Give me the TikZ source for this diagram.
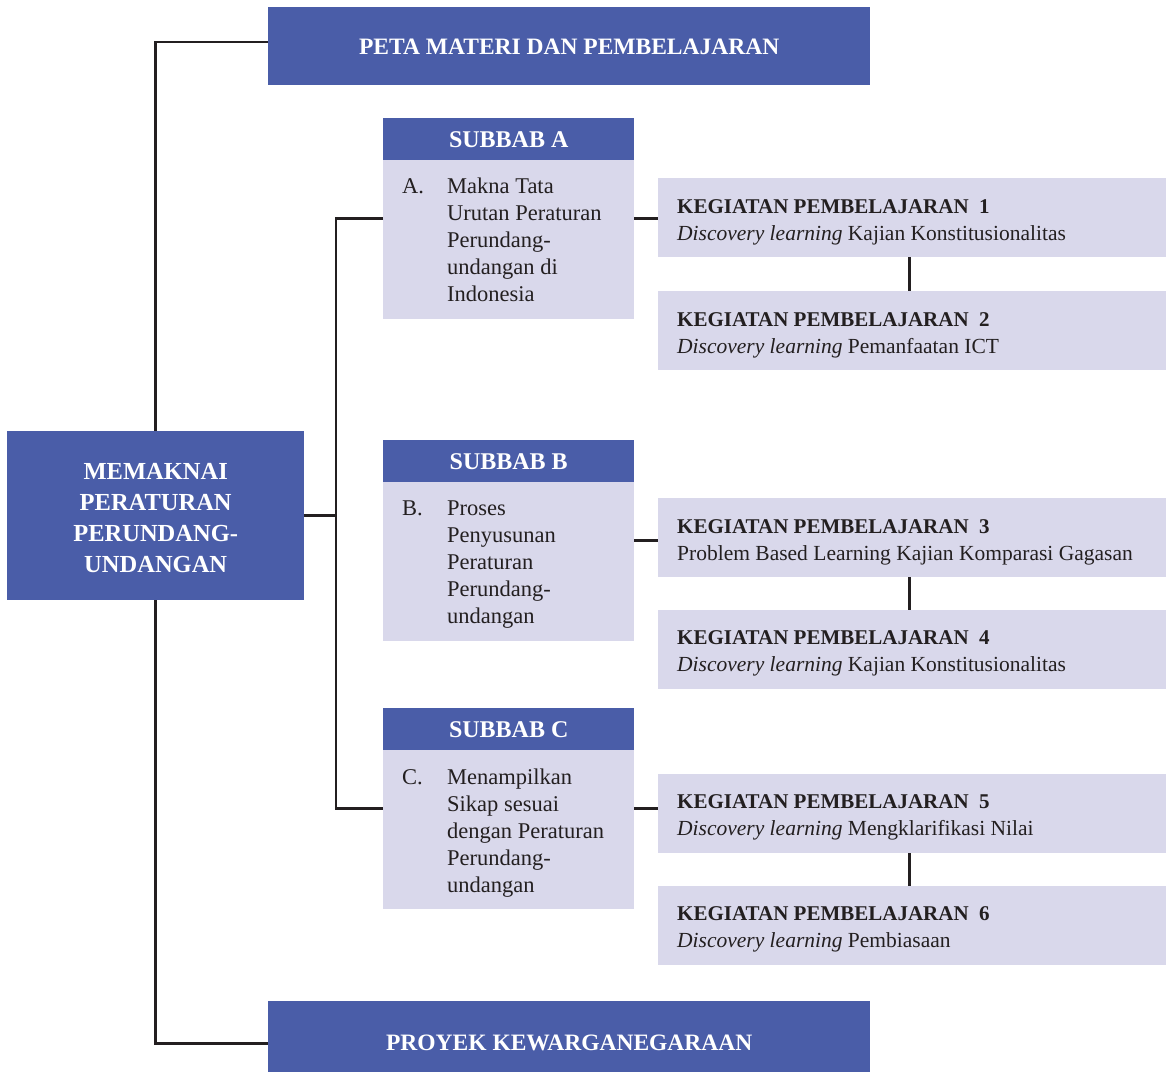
\documentclass[tikz,border=0pt]{standalone}
\usepackage{fontspec}
\setmainfont{Liberation Serif}
\definecolor{blueM}{HTML}{4A5DA8}
\definecolor{lightM}{HTML}{D9D8EB}
\definecolor{inkM}{HTML}{231F20}
\begin{document}
\begin{tikzpicture}[x=1pt,y=-1pt,
  conn/.style={draw=inkM,line width=2.6pt},
  darkbox/.style={fill=blueM,text=white,inner sep=0pt,anchor=north west,font=\fontsize{23.5}{28}\selectfont\bfseries},
  subbox/.style={fill=lightM,inner sep=0pt,anchor=north west,minimum width=251pt,minimum height=201pt},
  subhead/.style={fill=blueM,text=white,inner sep=0pt,anchor=north west,minimum width=251pt,minimum height=42pt,font=\fontsize{24}{28}\selectfont\bfseries},
  subtext/.style={anchor=north west,inner sep=0pt,text=inkM,align=left,font=\fontsize{22.5}{27}\selectfont},
  kpbox/.style={fill=lightM,anchor=north west,minimum width=508pt,minimum height=79pt,inner sep=0pt},
  kptext/.style={anchor=north west,inner sep=0pt,text=inkM,align=left,font=\fontsize{21.5}{27}\selectfont}
]
\useasboundingbox (0,0) rectangle (1169,1073);
% main boxes
\node[darkbox,minimum width=602pt,minimum height=78pt] (peta) at (268,7) {};
\node[text=white,inner sep=0pt,font=\fontsize{23.5}{28}\selectfont\bfseries] (petaT) at ([yshift=-1pt]peta.center) {PETA MATERI DAN PEMBELAJARAN};
\node[darkbox,minimum width=602pt,minimum height=71pt] (proyek) at (268,1001) {};
\node[text=white,inner sep=0pt,font=\fontsize{23.5}{28}\selectfont\bfseries] (proyekT) at ([yshift=-6pt]proyek.center) {PROYEK KEWARGANEGARAAN};
\node[darkbox,minimum width=297pt,minimum height=169pt] (main) at (7,431) {};
\node[text=white,inner sep=0pt,align=center,font=\fontsize{24.5}{31}\selectfont\bfseries] (mainT) at ([yshift=-2pt]main.center) {MEMAKNAI\\PERATURAN\\PERUNDANG-\\UNDANGAN};
% subbab boxes
\node[subbox] (subA) at (383,118) {};
\node[subhead] (headA) at (383,118) {SUBBAB A};
\node[subtext] (labA) at (402,178) {A.};
\node[subtext] (txtA) at (447,178) {Makna Tata\\Urutan Peraturan\\Perundang-\\undangan di\\Indonesia};
\node[subbox] (subB) at (383,440) {};
\node[subhead] (headB) at (383,440) {SUBBAB B};
\node[subtext] (labB) at (402,501) {B.};
\node[subtext] (txtB) at (447,501) {Proses\\Penyusunan\\Peraturan\\Perundang-\\undangan};
\node[subbox] (subC) at (383,708) {};
\node[subhead] (headC) at (383,708) {SUBBAB C};
\node[subtext] (labC) at (402,769) {C.};
\node[subtext] (txtC) at (447,769) {Menampilkan\\Sikap sesuai\\dengan Peraturan\\Perundang-\\undangan};
% kegiatan boxes
\node[kpbox] (kp1) at (658,178) {};
\node[kptext] (kp1t) at (677,199) {{\bfseries\fontsize{21}{27}\selectfont KEGIATAN PEMBELAJARAN~~1}\\\textit{Discovery learning} Kajian Konstitusionalitas};
\node[kpbox] (kp2) at (658,291) {};
\node[kptext] (kp2t) at (677,312) {{\bfseries\fontsize{21}{27}\selectfont KEGIATAN PEMBELAJARAN~~2}\\\textit{Discovery learning} Pemanfaatan ICT};
\node[kpbox] (kp3) at (658,498) {};
\node[kptext] (kp3t) at (677,519) {{\bfseries\fontsize{21}{27}\selectfont KEGIATAN PEMBELAJARAN~~3}\\Problem Based Learning Kajian Komparasi Gagasan};
\node[kpbox] (kp4) at (658,610) {};
\node[kptext] (kp4t) at (677,630) {{\bfseries\fontsize{21}{27}\selectfont KEGIATAN PEMBELAJARAN~~4}\\\textit{Discovery learning} Kajian Konstitusionalitas};
\node[kpbox] (kp5) at (658,774) {};
\node[kptext] (kp5t) at (677,794) {{\bfseries\fontsize{21}{27}\selectfont KEGIATAN PEMBELAJARAN~~5}\\\textit{Discovery learning} Mengklarifikasi Nilai};
\node[kpbox] (kp6) at (658,886) {};
\node[kptext] (kp6t) at (677,906) {{\bfseries\fontsize{21}{27}\selectfont KEGIATAN PEMBELAJARAN~~6}\\\textit{Discovery learning} Pembiasaan};
% connectors
\coordinate (spine) at (336,516);
\draw[conn] ([yshift=4pt]peta.west) -| (main.north);
\draw[conn] ([yshift=-6.5pt]proyek.west) -| (main.south);
\draw[conn] (main.east) -- (main.east -| spine);
\draw[conn] (subA.west) -| (spine) |- (subC.west);
\draw[conn] (subA.east) -- (subA.east -| kp1.west);
\draw[conn] (subB.east) -- (subB.east -| kp3.west);
\draw[conn] (subC.east) -- (subC.east -| kp5.west);
\draw[conn] ([xshift=-3pt]kp1.south) -- ([xshift=-3pt]kp2.north);
\draw[conn] ([xshift=-3pt]kp3.south) -- ([xshift=-3pt]kp4.north);
\draw[conn] ([xshift=-3pt]kp5.south) -- ([xshift=-3pt]kp6.north);
\end{tikzpicture}
\end{document}
